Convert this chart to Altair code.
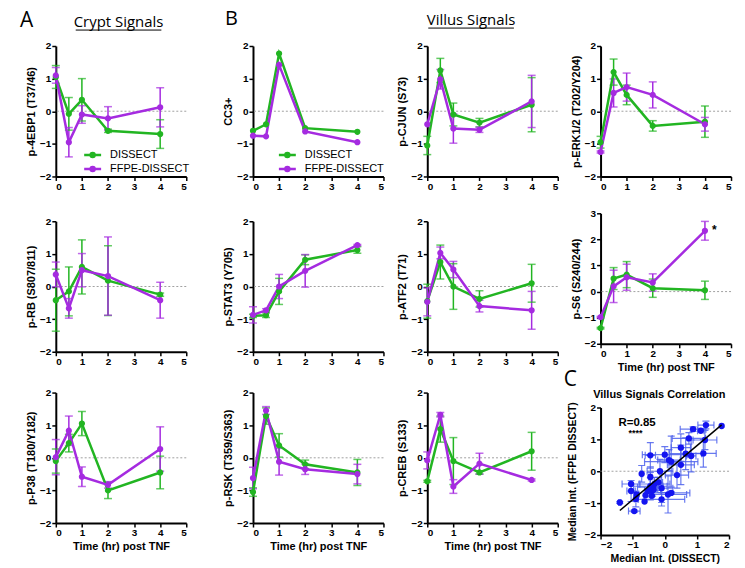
import altair as alt
import pandas as pd

TIMES = [0, 0.5, 1, 2, 4]
SERIES = ["DISSECT", "FFPE-DISSECT"]
SERIES_COLORS = ["#22B522", "#A52BE0"]

# ---- Crypt signals (mean, error) ----
EBP1_D = [1.05, -0.08, 0.35, -0.60, -0.70]
EBP1_DE = [0.35, 0.50, 0.65, 0.05, 0.44]
EBP1_F = [1.10, -0.95, -0.10, -0.22, 0.12]
EBP1_FE = [0.24, 0.45, 0.27, 0.36, 0.60]

RB_D = [-0.42, -0.15, 0.60, 0.18, -0.25]
RB_DE = [0.95, 0.75, 0.83, 1.07, 0.05]
RB_F = [0.37, -0.67, 0.50, 0.32, -0.42]
RB_FE = [0.38, 0.30, 0.51, 1.20, 0.55]

P38_D = [-0.10, 0.45, 1.05, -1.00, -0.45]
P38_DE = [0.37, 0.27, 0.37, 0.25, 0.50]
P38_F = [0.02, 0.83, -0.58, -0.83, 0.27]
P38_FE = [0.54, 0.45, 0.30, 0.10, 0.68]

# ---- Villus signals ----
CC3_D = [-0.60, -0.40, 1.77, -0.52, -0.63]
CC3_DE = [0, 0, 0, 0, 0]
CC3_F = [-0.75, -0.77, 1.42, -0.62, -0.95]
CC3_FE = [0, 0, 0, 0, 0]

CJUN_D = [-1.05, 1.25, -0.10, -0.35, 0.20]
CJUN_DE = [0.28, 0.37, 0.35, 0.13, 0.83]
CJUN_F = [-0.40, 0.98, -0.53, -0.57, 0.30]
CJUN_FE = [0.0, 0.30, 0.45, 0.08, 0.80]

ERK_D = [-0.95, 1.20, 0.50, -0.45, -0.32]
ERK_DE = [0.18, 0.40, 0.30, 0.16, 0.48]
ERK_F = [-1.25, 0.56, 0.74, 0.50, -0.40]
ERK_FE = [0.03, 0.43, 0.43, 0.40, 0.21]

STAT3_D = [-0.90, -0.88, -0.15, 0.82, 1.12]
STAT3_DE = [0.05, 0.07, 0.40, 0.15, 0.10]
STAT3_F = [-0.87, -0.73, 0.00, 0.48, 1.27]
STAT3_FE = [0.25, 0.05, 0.37, 0.50, 0.02]

ATF2_D = [-0.45, 0.75, 0.00, -0.38, 0.10]
ATF2_DE = [0.52, 0.52, 0.70, 0.25, 0.58]
ATF2_F = [-0.47, 1.03, 0.52, -0.60, -0.73]
ATF2_FE = [0.43, 0.18, 0.25, 0.18, 0.58]

S6_D = [-1.40, 0.50, 0.65, 0.13, 0.05]
S6_DE = [0.03, 0.42, 0.50, 0.35, 0.35]
S6_F = [-0.98, 0.20, 0.55, 0.35, 2.33]
S6_FE = [0.03, 0.62, 0.50, 0.33, 0.36]

RSK_D = [-1.05, 1.28, 0.38, -0.20, -0.45]
RSK_DE = [0.13, 0.25, 0.36, 0.13, 0.40]
RSK_F = [-0.62, 1.45, -0.12, -0.35, -0.50]
RSK_FE = [0.33, 0.12, 0.41, 0.16, 0.30]

CREB_D = [-0.72, 0.88, -0.10, -0.45, 0.20]
CREB_DE = [0.03, 0.40, 0.72, 0.05, 0.58]
CREB_F = [-0.08, 1.32, -0.88, -0.18, -0.68]
CREB_FE = [0.26, 0.07, 0.21, 0.32, 0.03]

VILLUS = [
    (CC3_D, CC3_DE, CC3_F, CC3_FE),
    (CJUN_D, CJUN_DE, CJUN_F, CJUN_FE),
    (ERK_D, ERK_DE, ERK_F, ERK_FE),
    (STAT3_D, STAT3_DE, STAT3_F, STAT3_FE),
    (ATF2_D, ATF2_DE, ATF2_F, ATF2_FE),
    (S6_D, S6_DE, S6_F, S6_FE),
    (RSK_D, RSK_DE, RSK_F, RSK_FE),
    (CREB_D, CREB_DE, CREB_F, CREB_FE),
]

FONT = "Liberation Sans"
HEAD_FONT = "Open Sans"
LEG_SYMBOL = "M-1.7,0H1.7M-0.4,0A0.4,0.4 0 1,1 0.4,0A0.4,0.4 0 1,1 -0.4,0Z"
W = 131
H = 131
T_TITLE = "Time (hr) post TNF"


def txt(text, x, y, size, weight="normal", align="left", font=FONT):
    return alt.Chart(pd.DataFrame({"label": [text]})).mark_text(
        align=align, baseline="middle", fontSize=size, fontWeight=weight,
        font=font, color="black"
    ).encode(x=alt.value(x), y=alt.value(y), text="label:N")


def uline(x1, x2, y):
    return alt.Chart(pd.DataFrame({"a": [0]})).mark_rule(
        color="black", strokeWidth=1
    ).encode(x=alt.value(x1), x2=alt.value(x2), y=alt.value(y))


def frame(box, w, h):
    # invisible frame that fixes the space a panel takes in the layout
    left, right, top, bottom = box
    return alt.Chart(pd.DataFrame({"a": [0]})).mark_rect(opacity=0).encode(
        x=alt.value(-left), x2=alt.value(w + right),
        y=alt.value(-top), y2=alt.value(h + bottom))


def time_panel(ytitle, d, de, f, fe, box, legend_xy=None, xtitle=None, ymax=2,
               extras=()):
    n = len(TIMES)
    df = pd.DataFrame({
        "t": TIMES + TIMES,
        "v": d + f,
        "e": de + fe,
        "s": [SERIES[0]] * n + [SERIES[1]] * n,
    })
    xsc = alt.Scale(domain=[0, 5], nice=False, zero=False)
    xax = alt.Axis(values=list(range(6)), title=xtitle, titlePadding=3)
    ysc = alt.Scale(domain=[-2, ymax], nice=False, zero=False)
    yax = alt.Axis(values=list(range(-2, ymax + 1)), title=ytitle, titlePadding=3)
    cs = alt.Scale(domain=SERIES, range=SERIES_COLORS)
    if legend_xy is not None:
        leg = alt.Legend(
            orient="none", legendX=legend_xy[0], legendY=legend_xy[1], title=None,
            symbolType=LEG_SYMBOL, symbolSize=100, symbolStrokeWidth=2.5,
            labelFont=FONT, labelFontSize=11, labelColor="black",
            labelOffset=11, rowPadding=-1, padding=0,
        )
    else:
        leg = None
    X = alt.X("t:Q", scale=xsc, axis=xax)
    base = alt.Chart(df)
    zero = alt.Chart(pd.DataFrame({"zero": [0]})).mark_rule(
        color="#a0a0a0", strokeDash=[2, 2], strokeWidth=1
    ).encode(y=alt.Y("zero:Q", scale=ysc, axis=yax))
    errs = base.transform_filter("datum.e > 0").transform_calculate(
        lo="datum.v - datum.e", hi="datum.v + datum.e"
    )
    bars = errs.mark_rule(strokeWidth=1.5).encode(
        x=X, y=alt.Y("lo:Q", scale=ysc, axis=yax), y2="hi:Q",
        stroke=alt.Stroke("s:N", scale=cs, legend=leg),
    )
    caps = errs.transform_fold(["lo", "hi"], as_=["k", "cap"]).mark_tick(
        orient="horizontal", size=8, thickness=1.5
    ).encode(
        x=X, y=alt.Y("cap:Q", scale=ysc, axis=yax),
        fill=alt.Fill("s:N", scale=cs, legend=leg),
    )
    line = base.mark_line(strokeWidth=2.5).encode(
        x=X, y=alt.Y("v:Q", scale=ysc, axis=yax),
        stroke=alt.Stroke("s:N", scale=cs, legend=leg),
    )
    pts = base.mark_point(filled=True, size=14, strokeWidth=2.5, opacity=1).encode(
        x=X, y=alt.Y("v:Q", scale=ysc, axis=yax),
        fill=alt.Fill("s:N", scale=cs, legend=leg),
        stroke=alt.Stroke("s:N", scale=cs, legend=leg),
    )
    return alt.layer(frame(box, W, H), zero, bars, caps, line, pts, *extras).properties(
        width=W, height=H
    )


def scatter_panel(box, w=129, h=128):
    sx, sxe, sy, sye = [], [], [], []
    for d, de, f, fe in VILLUS:
        sx += d
        sxe += de
        sy += f
        sye += fe
    df = pd.DataFrame({"x": sx, "y": sy, "xe": sxe, "ye": sye})
    blue = "#1414F0"
    eb = "#4F63EC"
    xsc = alt.Scale(domain=[-2, 2], nice=False, zero=False)
    ysc = alt.Scale(domain=[-2, 2], nice=False, zero=False)
    xax = alt.Axis(values=list(range(-2, 3)), title="Median Int. (DISSECT)",
                   titlePadding=4, titleFontSize=10.5)
    yax = alt.Axis(values=list(range(-2, 3)), title="Median Int. (FFPE DISSECT)",
                   titlePadding=7, titleFontSize=10.5)
    X = alt.X("x:Q", scale=xsc, axis=xax)
    Y = alt.Y("y:Q", scale=ysc, axis=yax)
    # only the points that fall inside the plotted range
    base = alt.Chart(df).transform_filter("datum.y <= 2 && datum.x <= 2")
    zero = alt.Chart(pd.DataFrame({"zero": [0]})).mark_rule(
        color="#a0a0a0", strokeDash=[2, 2], strokeWidth=1
    ).encode(y=alt.Y("zero:Q", scale=ysc, axis=yax))
    hx = base.transform_filter("datum.xe > 0").transform_calculate(
        xlo="datum.x - datum.xe", xhi="datum.x + datum.xe")
    hbar = hx.mark_rule(color=eb, opacity=0.85, strokeWidth=1.2, clip=True).encode(
        x=alt.X("xlo:Q", scale=xsc, axis=xax), x2="xhi:Q", y=Y)
    hcap = hx.transform_fold(["xlo", "xhi"], as_=["k", "cap"]).mark_tick(
        orient="vertical", size=7, thickness=1.2, color=eb, opacity=0.85, clip=True
    ).encode(x=alt.X("cap:Q", scale=xsc, axis=xax), y=Y)
    vy = base.transform_filter("datum.ye > 0").transform_calculate(
        ylo="datum.y - datum.ye", yhi="datum.y + datum.ye")
    vbar = vy.mark_rule(color=eb, opacity=0.85, strokeWidth=1.2, clip=True).encode(
        x=X, y=alt.Y("ylo:Q", scale=ysc, axis=yax), y2="yhi:Q")
    vcap = vy.transform_fold(["ylo", "yhi"], as_=["k", "cap"]).mark_tick(
        orient="horizontal", size=7, thickness=1.2, color=eb, opacity=0.85, clip=True
    ).encode(x=X, y=alt.Y("cap:Q", scale=ysc, axis=yax))
    pts = base.mark_circle(size=40, color=blue, opacity=1, clip=True).encode(x=X, y=Y)
    reg = base.transform_regression("x", "y").mark_line(
        color="black", strokeWidth=1.5, clip=True).encode(x=X, y=Y)
    texts = [
        txt("R=0.85", 18, 16, 11.5, weight="bold"),
        txt("****", 28, 26, 9, weight="bold"),
    ]
    return alt.layer(frame(box, w, h), zero, hbar, hcap, vbar, vcap, pts, reg,
                     *texts).properties(width=w, height=h)


# frames: (left, right, top, bottom) space around each plot area
LA, RA = 38, 35.5
LB, RB = 30, 12.5
LC, RC = 30, 4.5
LD, RD = 37.5, 6
T1, B1 = 37, 20
T2, B2 = 24.7, 25
T3, B3 = 15.3, 32

a1 = time_panel("p-4EBP1 (T37/46)", EBP1_D, EBP1_DE, EBP1_F, EBP1_FE, (LA, RA, T1, B1),
                legend_xy=(30.5, 103),
                extras=(txt("A", -36, -25, 21, font=HEAD_FONT),
                        txt("Crypt Signals", 63, -24, 15, align="center", font=HEAD_FONT),
                        uline(20, 106, -16)))
a2 = time_panel("p-RB (S807/811)", RB_D, RB_DE, RB_F, RB_FE, (LA, RA, T2, B2))
a3 = time_panel("p-P38 (T180/Y182)", P38_D, P38_DE, P38_F, P38_FE, (LA, RA, T3, B3),
                xtitle=T_TITLE)

b1 = time_panel("CC3+", CC3_D, CC3_DE, CC3_F, CC3_FE, (LB, RB, T1, B1),
                legend_xy=(28, 103),
                extras=(txt("B", -28, -27, 20, font=HEAD_FONT),))
b2 = time_panel("p-STAT3 (Y705)", STAT3_D, STAT3_DE, STAT3_F, STAT3_FE, (LB, RB, T2, B2))
b3 = time_panel("p-RSK (T359/S363)", RSK_D, RSK_DE, RSK_F, RSK_FE, (LB, RB, T3, B3),
                xtitle=T_TITLE)

c1 = time_panel("p-CJUN (S73)", CJUN_D, CJUN_DE, CJUN_F, CJUN_FE, (LC, RC, T1, B1),
                extras=(txt("Villus Signals", 44, -26, 15, align="center", font=HEAD_FONT),
                        uline(1, 87, -18)))
c2 = time_panel("p-ATF2 (T71)", ATF2_D, ATF2_DE, ATF2_F, ATF2_FE, (LC, RC, T2, B2))
c3 = time_panel("p-CREB (S133)", CREB_D, CREB_DE, CREB_F, CREB_FE, (LC, RC, T3, B3),
                xtitle=T_TITLE)

d1 = time_panel("p-ERK1/2 (T202/Y204)", ERK_D, ERK_DE, ERK_F, ERK_FE, (LD, RD, T1, 20))
d2 = time_panel("p-S6 (S240/244)", S6_D, S6_DE, S6_F, S6_FE, (LD, RD, 17, 57),
                xtitle=T_TITLE, ymax=3,
                extras=(txt("*", 112, 17, 12, weight="bold"),
                        txt("C", -37, 167.5, 21, font=HEAD_FONT),
                        txt("Villus Signals Correlation", 59, 182, 11,
                            weight="bold", align="center")))
d3 = scatter_panel((LD, RD + 2, 6.3, 32))


def indep(ch):
    return ch.resolve_scale(stroke="independent", fill="independent").resolve_legend(
        stroke="independent", fill="independent")


def column(p1, p2, p3):
    return indep(alt.vconcat(p1, p2, p3, spacing=0))


chart = indep(alt.hconcat(
    column(a1, a2, a3), column(b1, b2, b3), column(c1, c2, c3), column(d1, d2, d3),
    spacing=0,
)).properties(
    padding={"left": 10, "top": 0, "right": 0, "bottom": 0}
).configure(font=FONT).configure_view(strokeWidth=0).configure_axis(
    domainColor="black", domainWidth=2, tickColor="black", tickWidth=1.5, tickSize=4,
    labelFont=FONT, labelFontWeight="bold", labelFontSize=10, labelColor="black",
    labelPadding=1, titleFont=FONT, titleFontWeight="bold", titleFontSize=11,
    titleColor="black", grid=False,
)

chart.save("out.html", embed_options={"renderer": "svg", "actions": False})
